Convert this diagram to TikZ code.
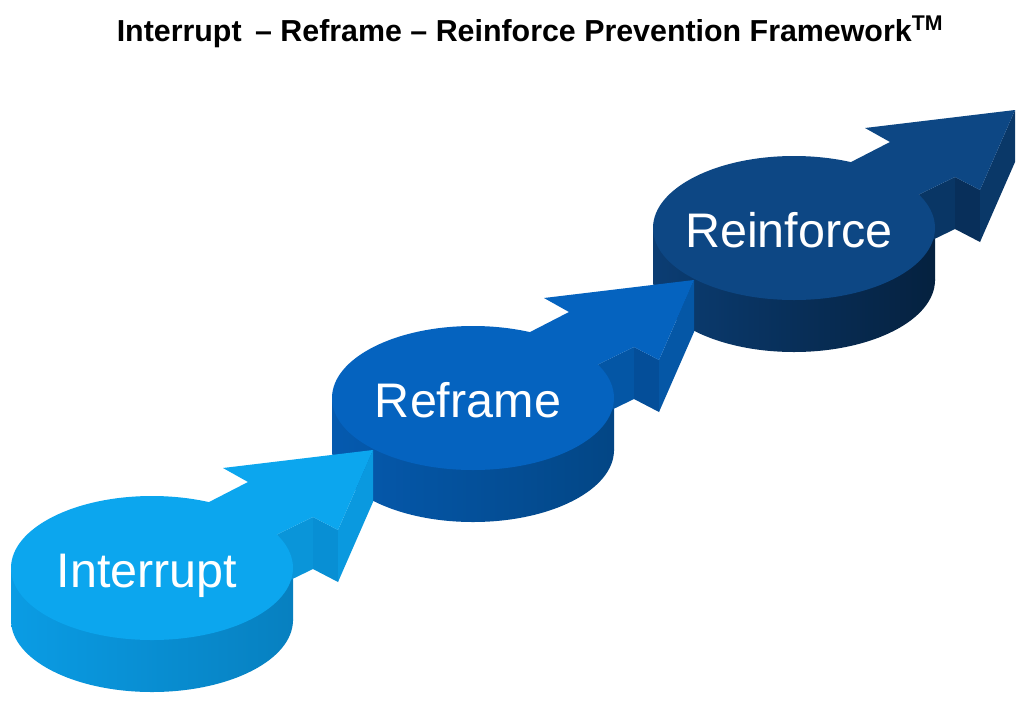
\documentclass[tikz,border=0pt]{standalone}
\usepackage{fontspec}
\setmainfont{Liberation Sans}
\usepackage{xcolor}
\usepackage{tikz}
\definecolor{skytop}{HTML}{0CA6EE}
\definecolor{skywallA}{HTML}{0A9CE4}
\definecolor{skywallB}{HTML}{0780C0}
\definecolor{skybarb}{HTML}{088FD4}
\definecolor{skyhead}{HTML}{0A99DF}
\definecolor{midtop}{HTML}{0563BF}
\definecolor{midwallA}{HTML}{055AAF}
\definecolor{midwallB}{HTML}{034685}
\definecolor{midbarb}{HTML}{044E99}
\definecolor{midhead}{HTML}{0557A6}
\definecolor{navytop}{HTML}{0D4784}
\definecolor{navywallA}{HTML}{0B3D73}
\definecolor{navywallB}{HTML}{05213F}
\definecolor{navybarb}{HTML}{082F5A}
\definecolor{navyhead}{HTML}{0A3868}

\tikzset{
  steplabel/.style={text=white, anchor=base, font=\fontsize{34.5}{40}\selectfont},
  titlelabel/.style={text=black, anchor=base, font=\bfseries\fontsize{21.6}{25}\selectfont}
}

% one disc with its arrow: name, cx, cy, top, wall left, wall right, barb, head, text
\newcommand{\stepdisc}[9]{%
  \begin{scope}[shift={(#2,#3)}]
    \path[left color=#5, right color=#6] (-141,0) rectangle (141,52);
    \path[left color=#5, right color=#6] (0,52) ellipse [x radius=141, y radius=72];
    \fill[#4!55!#6] (91,-17) -- (161,-51) -- (161,1) -- (91,35) -- cycle;
    \fill[#7] (161,-51) -- (186,-38) -- (186,14) -- (161,1) -- cycle;
    \fill[#8] (186,-38) -- (221,-118) -- (221,-66) -- (186,14) -- cycle;
    \fill[#4] (26,-50) -- (96,-86) -- (71,-100) -- (221,-118) -- (186,-38)
      -- (161,-51) -- (91,-17) -- cycle;
    \fill[#4] (0,0) ellipse [x radius=141, y radius=72];
    \node[steplabel] (#1) at (-5,19) {#9};
  \end{scope}}

\begin{document}
\begin{tikzpicture}[x=0.025cm, y=-0.025cm]
\fill[white] (0,0) rectangle (1024,704);
\useasboundingbox (0,0) rectangle (1024,704);

\node[titlelabel] (title) at (530,41)
  {Interrupt \,– Reframe – Reinforce Prevention Framework\textsuperscript{TM}};

\stepdisc{reinforce}{794}{228}{navytop}{navywallA}{navywallB}{navybarb}{navyhead}{Reinforce}
\stepdisc{reframe}{473}{398}{midtop}{midwallA}{midwallB}{midbarb}{midhead}{Reframe}
\stepdisc{interrupt}{152}{568}{skytop}{skywallA}{skywallB}{skybarb}{skyhead}{Interrupt}
\end{tikzpicture}
\end{document}
